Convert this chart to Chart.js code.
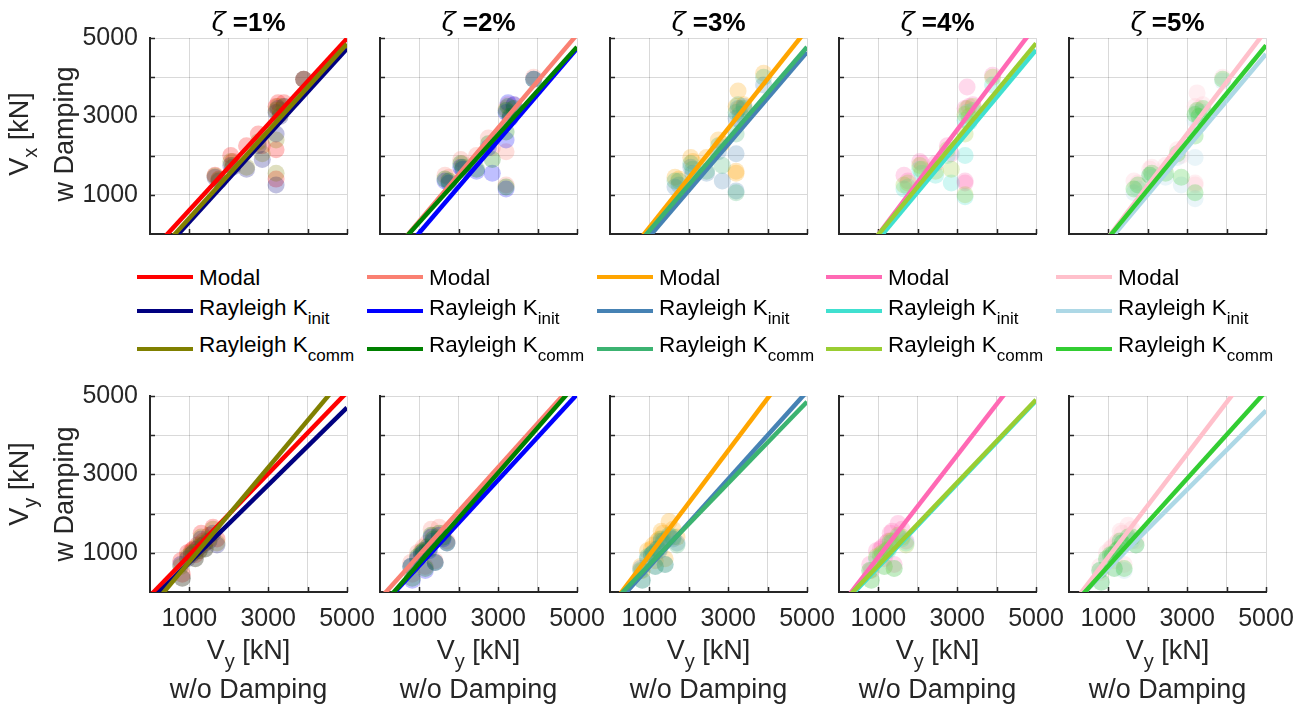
<!DOCTYPE html>
<html>
<head>
<meta charset="utf-8">
<script src="https://cdn.jsdelivr.net/npm/chart.js@4.4.1/dist/chart.umd.min.js"></script>
<style>
  body { margin: 0; background: #fff; width: 1306px; height: 711px; overflow: hidden; position: relative;
         font-family: "Liberation Sans", Arial, sans-serif; color: #262626; }
  canvas { position: absolute; }
  .ttl { position: absolute; font-size: 26px; font-weight: bold; color: #000; white-space: nowrap;
         transform: translateX(-50%); line-height: 26px; }
  .ttl i { font-family: "DejaVu Serif", serif; font-weight: normal; font-style: italic; }
  .lbl { position: absolute; font-size: 27px; line-height: 27px; white-space: nowrap; color: #262626; }
  .rot { transform: translate(-50%, -50%) rotate(-90deg); }
  .hor { transform: translateX(-50%); }
  .sub { font-size: 20px; position: relative; top: 9px; }
  .leg { position: absolute; font-size: 22.5px; line-height: 22px; color: #000; white-space: nowrap; }
  .leg .s { font-size: 17px; position: relative; top: 9px; }
  .swatch { position: absolute; height: 4px; width: 56px; }
</style>
</head>
<body>
<script>
// damping ratios (one column each)
const dampLabels = ['1%', '2%', '3%', '4%', '5%'];

// line colours, one per damping column
const modalColors = ['#ff0000', '#fa8072', '#ffa500', '#ff69b4', '#ffc0cb'];
const kinitColors = ['#000080', '#0000ff', '#4682b4', '#40e0d0', '#add8e6'];
const kcommColors = ['#808000', '#008000', '#3cb371', '#9acd32', '#32cd32'];

// base shear in x without damping [kN]
const vxNoDamp = [1650, 1750, 2050, 2100, 2450, 2750, 2850, 3200, 3200, 3200, 3250, 3300, 3400, 3900];
// base shear in x with damping [kN], one row per damping ratio
const vxModal = [
  [1500, 1400, 2000, 1850, 2250, 2550, 2250, 2150, 1400, 3250, 3350, 3150, 3350, 3950],
  [1500, 1450, 1900, 1800, 2000, 2450, 2200, 2100, 1250, 3200, 3300, 3100, 3300, 4000],
  [1450, 1400, 1950, 1850, 1950, 2400, 2300, 1600, 1550, 3250, 3650, 3200, 3300, 4100],
  [1500, 1350, 1850, 1800, 1800, 2250, 2050, 1350, 1300, 3200, 3750, 3250, 3300, 4050],
  [1350, 1300, 1650, 1700, 1750, 2150, 2000, 1300, 1250, 3250, 3600, 3200, 3300, 4000]
];
const vxKinit = [
  [1450, 1350, 1750, 1700, 1650, 2250, 1900, 2550, 1250, 3100, 3200, 3000, 3250, 3950],
  [1350, 1300, 1700, 1650, 1600, 2200, 1550, 2400, 1150, 3100, 3350, 2950, 3300, 3950],
  [1200, 1250, 1700, 1550, 1550, 2100, 1350, 2050, 1100, 2950, 3200, 2900, 3250, 3800],
  [1150, 1200, 1650, 1550, 1500, 2000, 1300, 2000,  950, 2900, 3100, 2850, 3150, 3800],
  [1050, 1150, 1500, 1450, 1450, 1950, 1250, 1950,  900, 2900, 3100, 2800, 3100, 3900]
];
const vxKcomm = [
  [1480, 1380, 1850, 1750, 1700, 2350, 2050, 2400, 1550, 3150, 3250, 3050, 3250, 3950],
  [1400, 1350, 1800, 1700, 1650, 2300, 1900, 2600, 1200, 3150, 3250, 3000, 3200, 3950],
  [1350, 1350, 1800, 1650, 1600, 2250, 1750, 2550, 1050, 3100, 3300, 3050, 3200, 4000],
  [1250, 1300, 1750, 1650, 1600, 2150, 1650, 2550, 1000, 3050, 3200, 3000, 3250, 4000],
  [1150, 1250, 1500, 1550, 1550, 2050, 1450, 2500, 1050, 3050, 3150, 3000, 3200, 3950]
];

// base shear in y without damping [kN]
const vyNoDamp = [820, 780, 950, 1050, 1100, 1150, 1200, 1250, 1300, 1350, 1400, 1500, 1600, 1700];
const vyModal = [
  [450, 800, 1000, 1050, 1100, 950, 1200, 1150, 1500, 1300, 1250, 1450, 1650, 1350],
  [450, 750, 1000, 1050, 1150, 650, 1250, 1200, 1600, 1450,  800, 1650, 1500, 1300],
  [550, 650, 1050, 1100, 1200, 800, 1300, 1350, 1550, 1500,  850, 1800, 1600, 1400],
  [550, 700, 1050, 1100, 1150, 850, 1250, 1300, 1500, 1550,  700, 1750, 1600, 1300],
  [500, 650, 1000, 1100, 1150, 800, 1250, 1300, 1550, 1500,  700, 1700, 1600, 1300]
];
const vyKinit = [
  [350, 700, 850, 950, 1000, 850, 1100, 1050, 1350, 1200, 1100, 1300, 1500, 1200],
  [300, 650, 850, 950, 1000, 550, 1100, 1050, 1400, 1300,  750, 1450, 1350, 1250],
  [300, 600, 850, 950, 1000, 650, 1100, 1050, 1300, 1250,  700, 1400, 1350, 1250],
  [300, 550, 850, 900,  950, 650, 1050, 1050, 1250, 1250,  600, 1400, 1350, 1250],
  [250, 550, 800, 900,  950, 600, 1000, 1050, 1250, 1250,  550, 1350, 1300, 1200]
];
const vyKcomm = [
  [350, 650, 900, 1000, 1000, 850, 1150, 1050, 1400, 1250, 1100, 1350, 1600, 1250],
  [350, 650, 900, 1000, 1050, 600, 1150, 1100, 1450, 1350,  750, 1500, 1400, 1250],
  [300, 550, 900,  950, 1000, 650, 1100, 1100, 1350, 1300,  700, 1450, 1400, 1200],
  [300, 550, 900,  950, 1000, 650, 1050, 1100, 1300, 1300,  600, 1450, 1400, 1200],
  [250, 550, 850,  950,  950, 600, 1050, 1100, 1300, 1250,  600, 1400, 1400, 1200]
];

// linear fits [slope, intercept]
const vxFitModal = [[1.094, -484], [1.189, -858], [1.263, -1095], [1.335, -1346], [1.318, -1396]];
const vxFitKinit = [[1.105, -796], [1.174, -1140], [1.177, -1242], [1.208, -1343], [1.196, -1390]];
const vxFitKcomm = [[1.111, -705], [1.118, -817], [1.172, -1090], [1.219, -1231], [1.227, -1323]];
const vyFitModal = [[1.039, -98], [1.117, -170], [1.334, -394], [1.299, -407], [1.315, -422]];
const vyFitKinit = [[0.987, -233], [1.091, -414], [1.117, -470], [1.060, -420], [1.007, -407]];
const vyFitKcomm = [[1.200, -425], [1.149, -407], [1.039, -341], [1.056, -374], [1.115, -450]];

const axisMin = 0, axisMax = 5000, axisStep = 1000;

const plotLefts = [150, 380, 610, 839, 1069];
const plotTops = [38, 396];
const plotW = 197, plotH = 196;
const axisColor = '#262626';

function alpha(hex, a) {
  const n = parseInt(hex.slice(1), 16);
  return `rgba(${(n >> 16) & 255},${(n >> 8) & 255},${n & 255},${a})`;
}

const inwardTicks = {
  id: 'inwardTicks',
  beforeDatasetsDraw(chart) {
    const { ctx, chartArea: a, scales: { x, y } } = chart;
    ctx.save();
    ctx.strokeStyle = axisColor;
    ctx.lineWidth = 1.5;
    ctx.beginPath();
    y.ticks.forEach(t => {
      if (t.value === axisMin) return;
      const py = Math.round(y.getPixelForValue(t.value)) + 0.5;
      ctx.moveTo(a.left, py); ctx.lineTo(a.left + 5, py);
    });
    x.ticks.forEach(t => {
      if (t.value === axisMin) return;
      const px = Math.round(x.getPixelForValue(t.value)) + 0.5;
      ctx.moveTo(px, a.bottom); ctx.lineTo(px, a.bottom - 5);
    });
    ctx.stroke();
    ctx.restore();
  }
};

const oddThousands = v => (v % 2000 === 1000 ? String(v) : '');

function buildPanel(row, col) {
  const bottom = row === 1;
  const xs = bottom ? vyNoDamp : vxNoDamp;
  const series = bottom ? [vyModal, vyKinit, vyKcomm] : [vxModal, vxKinit, vxKcomm];
  const fits = bottom ? [vyFitModal, vyFitKinit, vyFitKcomm] : [vxFitModal, vxFitKinit, vxFitKcomm];
  const colors = [modalColors[col], kinitColors[col], kcommColors[col]];

  const ml = col === 0 ? 110 : 10, mr = 32, mt = 16, mb = bottom ? 50 : 10;
  const cv = document.createElement('canvas');
  cv.width = ml + plotW + mr;
  cv.height = mt + plotH + mb;
  cv.style.left = (plotLefts[col] - ml) + 'px';
  cv.style.top = (plotTops[row] - mt) + 'px';
  document.body.appendChild(cv);

  const datasets = [];
  fits.forEach((f, i) => {
    const [a, b] = f[col];
    datasets.push({
      label: 'fit' + i,
      data: [{ x: axisMin, y: a * axisMin + b }, { x: axisMax, y: a * axisMax + b }],
      showLine: true,
      borderColor: colors[i],
      borderWidth: 4.5,
      pointRadius: 0,
      order: 2 - i
    });
  });
  series.forEach((s, i) => {
    datasets.push({
      label: 'pts' + i,
      data: xs.map((x, k) => ({ x, y: s[col][k] })),
      backgroundColor: alpha(colors[i], 0.25),
      borderWidth: 0,
      pointRadius: 8.5,
      order: 10 - i
    });
  });

  const fixSize = (dim, size) => scale => {
    scale[dim] = size;
    scale.paddingLeft = 0; scale.paddingRight = 0;
    scale.paddingTop = 0; scale.paddingBottom = 0;
  };

  new Chart(cv, {
    type: 'scatter',
    data: { datasets },
    options: {
      responsive: false,
      animation: false,
      events: [],
      layout: { padding: { left: 0, right: mr, top: mt, bottom: 0 } },
      plugins: { legend: { display: false }, tooltip: { enabled: false } },
      scales: {
        x: {
          type: 'linear', min: axisMin, max: axisMax,
          afterFit: fixSize('height', mb),
          grid: { color: 'rgba(0,0,0,0.15)', lineWidth: 1, drawTicks: false },
          border: { display: true, color: axisColor, width: 2 },
          ticks: {
            display: bottom, stepSize: axisStep, autoSkip: false, maxRotation: 0, padding: 12,
            color: axisColor, font: { family: 'Liberation Sans', size: 25 }, callback: oddThousands
          }
        },
        y: {
          type: 'linear', min: axisMin, max: axisMax,
          afterFit: fixSize('width', ml),
          grid: { color: 'rgba(0,0,0,0.15)', lineWidth: 1, drawTicks: false },
          border: { display: true, color: axisColor, width: 2 },
          ticks: {
            display: col === 0, stepSize: axisStep, autoSkip: false, padding: 12,
            color: axisColor, font: { family: 'Liberation Sans', size: 25 }, callback: oddThousands
          }
        }
      }
    },
    plugins: [inwardTicks]
  });
}

function addDiv(cls, html, left, top) {
  const d = document.createElement('div');
  d.className = cls;
  d.innerHTML = html;
  d.style.left = left + 'px';
  d.style.top = top + 'px';
  document.body.appendChild(d);
  return d;
}

for (let c = 0; c < 5; c++) {
  buildPanel(0, c);
  buildPanel(1, c);
  const cx = plotLefts[c] + plotW / 2;
  addDiv('ttl', `<i>ζ</i> =${dampLabels[c]}`, cx, 9);
  addDiv('lbl hor', 'V<span class="sub">y</span> [kN]', cx, 637);
  addDiv('lbl hor', 'w/o Damping', cx, 676);

  // legend for this damping column
  const x0 = plotLefts[c] - 13;
  const legRows = [
    { color: modalColors[c], text: 'Modal', lineY: 275, textY: 267 },
    { color: kinitColors[c], text: 'Rayleigh K<span class="s">init</span>', lineY: 309, textY: 297 },
    { color: kcommColors[c], text: 'Rayleigh K<span class="s">comm</span>', lineY: 347, textY: 334 }
  ];
  legRows.forEach(r => {
    const sw = addDiv('swatch', '', x0, r.lineY);
    sw.style.background = r.color;
    addDiv('leg', r.text, x0 + 62, r.textY);
  });
}

// y axis titles
addDiv('lbl rot', 'V<span class="sub">x</span> [kN]', 20, 134);
addDiv('lbl rot', 'w Damping', 64, 134);
addDiv('lbl rot', 'V<span class="sub">y</span> [kN]', 20, 484);
addDiv('lbl rot', 'w Damping', 64, 494);
</script>
</body>
</html>
